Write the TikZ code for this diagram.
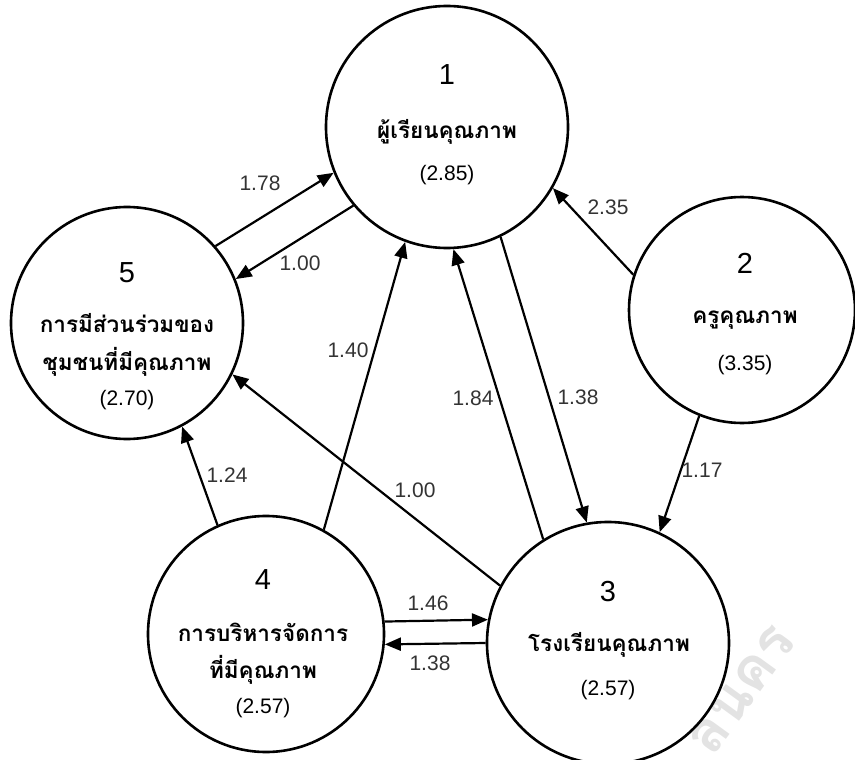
\documentclass[tikz,border=0pt]{standalone}
\usepackage{fontspec}
\setmainfont{Liberation Sans}
\newfontfamily\thaifont[Script=Thai]{Loma}
\usetikzlibrary{arrows.meta}
\tikzset{
  factor/.style={circle, draw, line width=2.6pt, inner sep=0pt},
  link/.style={line width=2.2pt, -{Triangle[length=16pt,width=13pt]}},
  weight/.style={font=\fontsize{21}{21}\selectfont, text=black!80},
  num/.style={font=\fontsize{29}{29}\selectfont},
  thai/.style={font=\thaifont\bfseries\fontsize{22.5}{22.5}\selectfont},
  mean/.style={font=\fontsize{21}{21}\selectfont}
}

\begin{document}
\begin{tikzpicture}[x=1pt, y=-1pt]
    \useasboundingbox (0,0) rectangle (855,760);

    % watermark
    \node[font=\thaifont\bfseries\fontsize{58}{58}\selectfont, text=black!11, rotate=54] (mark) at (742,690) {ลนคร};

    % 1 learner
    \node[factor, minimum size=242pt] (learner) at (447,127) {};
    \node[num] (learner-no) at (447,75) {1};
    \node[thai] (learner-name) at (447,132) {ผู้เรียนคุณภาพ};
    \node[mean] (learner-mean) at (447,175) {(2.85)};

    % 2 teacher
    \node[factor, minimum size=226pt] (teacher) at (742,310) {};
    \node[num] (teacher-no) at (745,263) {2};
    \node[thai] (teacher-name) at (745,320) {ครูคุณภาพ};
    \node[mean] (teacher-mean) at (745,365) {(3.35)};

    % 3 school
    \node[factor, minimum size=242pt] (school) at (608,643) {};
    \node[num] (school-no) at (608,592) {3};
    \node[thai] (school-name) at (609,645) {โรงเรียนคุณภาพ};
    \node[mean] (school-mean) at (608,690) {(2.57)};

    % 4 management
    \node[factor, minimum size=236pt] (manage) at (266,634) {};
    \node[num] (manage-no) at (263,580) {4};
    \node[thai] (manage-name1) at (263,632) {การบริหารจัดการ};
    \node[thai] (manage-name2) at (263,670) {ที่มีคุณภาพ};
    \node[mean] (manage-mean) at (263,708) {(2.57)};

    % 5 community
    \node[factor, minimum size=232pt] (community) at (127,323) {};
    \node[num] (community-no) at (127,273) {5};
    \node[thai] (community-name1) at (127,323) {การมีส่วนร่วมของ};
    \node[thai] (community-name2) at (127,362) {ชุมชนที่มีคุณภาพ};
    \node[mean] (community-mean) at (127,400) {(2.70)};

    % paths
    \draw[link] (community.41.6) -- (learner.202.3);
    \draw[link] (learner.220.7) -- (community.22.1);
    \draw[link] (manage.61.1) -- (learner.250.5);
    \draw[link] (school.122.6) -- (learner.273.7);
    \draw[link] (learner.296.6) -- (school.100.8);
    \draw[link] (teacher.162.4) -- (learner.330.2);
    \draw[link] (teacher.248) -- (school.65.9);
    \draw[link] (manage.114.5) -- (community.298.6);
    \draw[link] (school.152.6) -- (community.334.9);
    \draw[link] (manage.6.8) -- (school.169);
    \draw[link] (school.180) -- (manage.355.6);

    % path weights
    \node[weight] (w51) at (260,183) {1.78};
    \node[weight] (w15) at (300,263) {1.00};
    \node[weight] (w41) at (348,350) {1.40};
    \node[weight] (w31) at (473,398) {1.84};
    \node[weight] (w13) at (578,397) {1.38};
    \node[weight] (w21) at (608,207) {2.35};
    \node[weight] (w23) at (702,470) {1.17};
    \node[weight] (w45) at (227,475) {1.24};
    \node[weight] (w35) at (415,490) {1.00};
    \node[weight] (w43) at (428,603) {1.46};
    \node[weight] (w34) at (430,663) {1.38};
\end{tikzpicture}
\end{document}
